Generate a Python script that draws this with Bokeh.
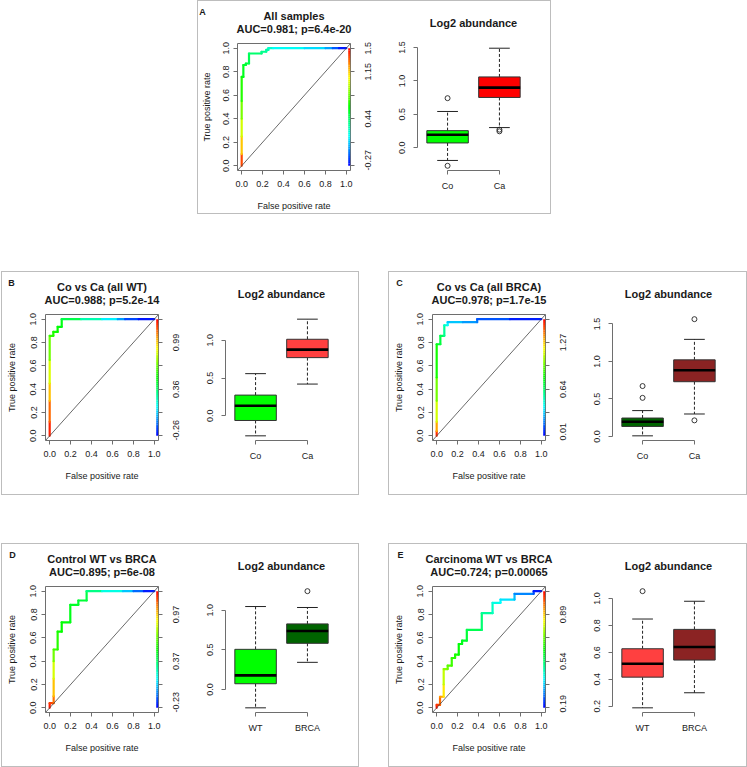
import math
import colorsys
from bokeh.plotting import figure
from bokeh.models import (Range1d, FixedTicker, LinearAxis, Slope,
                          PrintfTickFormatter, Spacer, Row, Column)
from bokeh.core.properties import value
from bokeh.embed import file_html
from bokeh.resources import INLINE

FONT = "Liberation Sans"
TXT = "#1a1a1a"
AX = "#6e6e6e"

# ---------------- data ----------------
roc_ticks = [0.0, 0.2, 0.4, 0.6, 0.8, 1.0]

# Panel A
a_title = "All samples"
a_stat = "AUC=0.981; p=6.4e-20"
a_fpr = [0, 0, 0, 0, 0, 0, 0.016, 0.016, 0.04, 0.04, 0.07, 0.07, 0.19, 0.19, 0.235, 0.235, 0.255, 0.255, 0.3, 0.6, 0.8, 0.87, 0.93, 1.0]
a_tpr = [0, 0.1, 0.25, 0.4, 0.55, 0.756, 0.756, 0.857, 0.857, 0.87, 0.87, 0.955, 0.955, 0.97, 0.97, 0.985, 0.985, 1, 1, 1, 1, 1, 1, 1]
a_cut = [1.5, 1.25, 1.06, 0.9, 0.75, 0.6, 0.58, 0.55, 0.53, 0.52, 0.5, 0.45, 0.4, 0.38, 0.36, 0.34, 0.32, 0.3, 0.22, 0.15, 0.08, -0.05, -0.18, -0.27]
a_key_range = [-0.27, 1.5]
a_key_labels = ["-0.27", "", "0.44", "", "1.15", "1.5"]
a_groups = ["Co", "Ca"]
a_lo = [-0.19, 0.302]
a_q1 = [0.072, 0.753]
a_med = [0.195, 0.90]
a_q3 = [0.256, 1.06]
a_hi = [0.543, 1.49]
a_out = [[0.742, -0.27], [0.271, 0.246]]
a_yticks = [0.0, 0.5, 1.0, 1.5]

# Panel B
b_title = "Co vs Ca (all WT)"
b_stat = "AUC=0.988; p=5.2e-14"
b_fpr = [0, 0, 0, 0, 0, 0, 0.035, 0.035, 0.076, 0.076, 0.115, 0.115, 0.3, 0.5, 0.65, 0.72, 0.85, 1.0]
b_tpr = [0, 0.12, 0.3, 0.45, 0.65, 0.857, 0.857, 0.891, 0.891, 0.934, 0.934, 1, 1, 1, 1, 1, 1, 1]
b_cut = [1.30, 1.2, 1.08, 0.93, 0.78, 0.6, 0.58, 0.56, 0.54, 0.52, 0.5, 0.48, 0.33, 0.17, 0.05, -0.1, -0.2, -0.26]
b_key_range = [-0.26, 1.3]
b_key_labels = ["-0.26", "", "0.36", "", "0.99", ""]
b_groups = ["Co", "Ca"]
b_lo = [-0.265, 0.42]
b_q1 = [-0.062, 0.77]
b_med = [0.133, 0.876]
b_q3 = [0.274, 1.013]
b_hi = [0.558, 1.279]
b_out = [[], []]
b_yticks = [0.0, 0.5, 1.0]

# Panel C
c_title = "Co vs Ca (all BRCA)"
c_stat = "AUC=0.978; p=1.7e-15"
c_fpr = [0, 0, 0, 0, 0, 0, 0.035, 0.035, 0.073, 0.073, 0.105, 0.105, 0.25, 0.387, 0.387, 0.7, 1.0]
c_tpr = [0, 0.04, 0.12, 0.3, 0.5, 0.785, 0.785, 0.857, 0.857, 0.948, 0.948, 0.974, 0.974, 0.974, 1, 1, 1]
c_cut = [1.585, 1.45, 1.2, 1.05, 0.9, 0.75, 0.72, 0.68, 0.64, 0.5, 0.45, 0.35, 0.28, 0.22, 0.18, 0.1, 0.01]
c_key_range = [0.01, 1.585]
c_key_labels = ["0.01", "", "0.64", "", "1.27", ""]
c_groups = ["Co", "Ca"]
c_lo = [0.009, 0.30]
c_q1 = [0.134, 0.73]
c_med = [0.197, 0.882]
c_q3 = [0.246, 1.021]
c_hi = [0.345, 1.294]
c_out = [[0.515, 0.672], [1.563, 0.215]]
c_yticks = [0.0, 0.5, 1.0, 1.5]

# Panel D
d_title = "Control WT vs BRCA"
d_stat = "AUC=0.895; p=6e-08"
d_fpr = [0, 0, 0.038, 0.038, 0.038, 0.038, 0.038, 0.076, 0.076, 0.115, 0.115, 0.197, 0.197, 0.274, 0.274, 0.353, 0.353, 0.5, 0.7, 0.8, 0.9, 1.0]
d_tpr = [0, 0.04, 0.04, 0.1, 0.25, 0.4, 0.5, 0.5, 0.653, 0.653, 0.733, 0.733, 0.883, 0.883, 0.92, 0.92, 1, 1, 1, 1, 1, 1]
d_cut = [1.27, 1.2, 1.15, 1.05, 0.92, 0.75, 0.62, 0.6, 0.55, 0.53, 0.52, 0.5, 0.47, 0.46, 0.45, 0.44, 0.4, 0.25, 0.12, 0.0, -0.15, -0.23]
d_key_range = [-0.23, 1.27]
d_key_labels = ["-0.23", "", "0.37", "", "0.97", ""]
d_groups = ["WT", "BRCA"]
d_lo = [-0.232, 0.342]
d_q1 = [0.072, 0.582]
d_med = [0.177, 0.738]
d_q3 = [0.506, 0.827]
d_hi = [1.046, 1.034]
d_out = [[], [1.24]]
d_yticks = [0.0, 0.5, 1.0]

# Panel E
e_title = "Carcinoma WT vs BRCA"
e_stat = "AUC=0.724; p=0.00065"
e_fpr = [0, 0, 0.032, 0.032, 0.067, 0.067, 0.067, 0.105, 0.105, 0.144, 0.144, 0.176, 0.176, 0.211, 0.211, 0.243, 0.243, 0.288, 0.288, 0.431, 0.431, 0.534, 0.534, 0.61, 0.61, 0.744, 0.744, 0.927, 0.927, 1.0]
e_tpr = [0, 0.025, 0.025, 0.095, 0.095, 0.2, 0.332, 0.332, 0.361, 0.361, 0.427, 0.427, 0.456, 0.456, 0.547, 0.547, 0.576, 0.576, 0.668, 0.668, 0.811, 0.811, 0.9, 0.9, 0.928, 0.928, 0.977, 0.977, 1, 1]
e_cut = [1.065, 1.03, 1.0, 0.95, 0.9, 0.83, 0.76, 0.73, 0.71, 0.69, 0.67, 0.66, 0.65, 0.64, 0.62, 0.61, 0.6, 0.59, 0.57, 0.55, 0.51, 0.48, 0.44, 0.42, 0.4, 0.37, 0.33, 0.28, 0.23, 0.19]
e_key_range = [0.19, 1.065]
e_key_labels = ["0.19", "", "0.54", "", "0.89", ""]
e_groups = ["WT", "BRCA"]
e_lo = [0.188, 0.30]
e_q1 = [0.416, 0.543]
e_med = [0.516, 0.64]
e_q3 = [0.627, 0.771]
e_hi = [0.848, 0.98]
e_out = [[1.055], []]
e_yticks = [0.2, 0.4, 0.6, 0.8, 1.0]

# ---------------- helpers ----------------
FW_ROC, FW_BOX = 113, 112
TOP_PAD = 4
TICK_FONT = 9


def rainbow(t):
    t = min(max(t, 0.0), 1.0)
    r, g, b = colorsys.hsv_to_rgb((1 - t) * 2 / 3, 1, 1)
    return "#%02x%02x%02x" % (round(r * 255), round(g * 255), round(b * 255))


def text_px(s, size=TICK_FONT):
    w = {".": 0.278, "-": 0.333}
    return sum(w.get(ch, 0.556) for ch in s) * size


def style_axis(ax, standoff):
    ax.axis_line_color = AX
    ax.major_tick_line_color = AX
    ax.minor_tick_line_color = None
    ax.major_tick_out = 4
    ax.major_tick_in = 0
    ax.major_label_text_font = FONT
    ax.major_label_text_font_size = "%dpx" % TICK_FONT
    ax.major_label_text_color = TXT
    ax.major_label_standoff = standoff
    ax.axis_label_text_font = FONT
    ax.axis_label_text_font_size = "9px"
    ax.axis_label_text_font_style = "normal"
    ax.axis_label_text_color = TXT


def bare(fig):
    fig.background_fill_color = "white"
    fig.border_fill_color = "white"


def make_panel(letter, title, stat, fpr, tpr, cut, key_range, key_labels,
               groups, lo, q1, med, q3, hi, outs, colors, yticks,
               pw, ph, roc_l, box_l, ft, fh, letter_x, tick_gap, ylab_gap):
    # outer size includes a 1px border on every side
    pw, ph = pw - 2, ph - 2
    roc_l, box_l, ft, letter_x = roc_l - 1, box_l - 1, ft - 1, letter_x - 1
    fb = ph - ft - fh
    roc_r = 33
    roc_w = roc_l + FW_ROC + roc_r
    box_w = pw - roc_w
    bl = box_l - roc_w
    br = box_w - bl - FW_BOX
    th = ft - TOP_PAD          # height of the strip that carries the titles
    body_h = ph - th

    # ---------- title strip (pixel coordinates, y downwards) ----------
    t = figure(width=pw, height=th, x_range=Range1d(0, pw), y_range=Range1d(th, 0),
               output_backend="svg", toolbar_location=None, min_border=0,
               x_axis_type=None, y_axis_type=None)
    t.outline_line_color = None
    bare(t)
    roc_cx = roc_l + FW_ROC / 2
    box_cx = box_l + FW_BOX / 2
    t.text(x=[letter_x], y=[10.5], text=[letter], text_font=value(FONT),
           text_font_size=value("9px"), text_font_style="bold",
           text_align="center", text_baseline="middle", text_color=TXT)
    t.text(x=[roc_cx, roc_cx, box_cx], y=[14.5, 27.5, 21],
           text=[title, stat, "Log2 abundance"], text_font=value(FONT),
           text_font_size=value("11px"), text_font_style="bold",
           text_align="center", text_baseline="middle", text_color=TXT)

    # ---------- ROC ----------
    p = figure(width=roc_w, height=body_h, x_range=Range1d(-0.04, 1.04),
               y_range=Range1d(-0.04, 1.04), output_backend="svg",
               toolbar_location=None, min_border_left=roc_l,
               min_border_right=roc_r, min_border_top=TOP_PAD, min_border_bottom=fb,
               x_axis_type=None, y_axis_type=None)
    p.outline_line_color = AX
    p.outline_line_width = 1
    bare(p)
    sx = 1.08 / FW_ROC
    dy = 1.08 / fh

    bx = LinearAxis(ticker=FixedTicker(ticks=roc_ticks),
                    formatter=PrintfTickFormatter(format="%.1f"), bounds=(0, 1),
                    axis_label="False positive rate")
    style_axis(bx, 6)
    bx.axis_label_standoff = 11
    p.add_layout(bx, "below")
    ly = LinearAxis(ticker=FixedTicker(ticks=roc_ticks),
                    formatter=PrintfTickFormatter(format="%.1f"), bounds=(0, 1),
                    axis_label="True positive rate")
    style_axis(ly, tick_gap)
    ly.axis_label_standoff = ylab_gap
    ly.major_label_orientation = "vertical"
    p.add_layout(ly, "left")

    # colour-key labels: the text runs upwards from its anchor, so the anchor is
    # moved down by half the text length (kept inside the range); the tick
    # marks themselves are drawn as minor ticks at the true positions
    shown = [(tk, s) for tk, s in zip(roc_ticks, key_labels) if s]
    anchors = [round(max(tk - text_px(s) / 2 * dy, -0.0395), 5) for tk, s in shown]
    ry = LinearAxis(ticker=FixedTicker(ticks=anchors, minor_ticks=roc_ticks),
                    bounds=(-0.04, 1.04),
                    major_label_overrides={a: s for a, (tk, s) in zip(anchors, shown)})
    style_axis(ry, 14)
    ry.axis_line_color = None
    ry.major_tick_line_color = None
    ry.minor_tick_line_color = AX
    ry.minor_tick_out = 4
    ry.minor_tick_in = 0
    ry.major_label_orientation = math.pi / 2
    p.add_layout(ry, "right")

    p.add_layout(Slope(gradient=1, y_intercept=0, line_color="#444444", line_width=0.8))

    cmin, cmax = key_range
    seg_cols = [rainbow(((cut[i] + cut[i + 1]) / 2 - cmin) / (cmax - cmin))
                for i in range(len(cut) - 1)]
    p.segment(x0=fpr[:-1], y0=tpr[:-1], x1=fpr[1:], y1=tpr[1:],
              line_color=seg_cols, line_width=2.2, line_cap="round")

    # colour key along the right edge of the frame
    n = 60
    kx = 1.04 - 1.2 * sx
    p.segment(x0=[kx] * n, x1=[kx] * n, y0=[i / n for i in range(n)],
              y1=[(i + 1) / n for i in range(n)],
              line_color=[rainbow((i + 0.5) / n) for i in range(n)], line_width=2.2)

    # ---------- box plot ----------
    allv = lo + hi + [v for o in outs for v in o]
    ymin, ymax = min(allv), max(allv)
    span = ymax - ymin
    yr0, yr1 = ymin - 0.04 * span, ymax + 0.04 * span
    q = figure(width=box_w, height=body_h, x_range=Range1d(0.42, 2.58),
               y_range=Range1d(yr0, yr1), output_backend="svg",
               toolbar_location=None, min_border_left=bl, min_border_right=br,
               min_border_top=TOP_PAD, min_border_bottom=fb,
               x_axis_type=None, y_axis_type=None)
    q.outline_line_color = None
    bare(q)
    xs = [1, 2]
    qx = LinearAxis(ticker=FixedTicker(ticks=xs), bounds=(1, 2),
                    major_label_overrides={1: groups[0], 2: groups[1]})
    style_axis(qx, 6)
    q.add_layout(qx, "below")
    qy = LinearAxis(ticker=FixedTicker(ticks=yticks),
                    formatter=PrintfTickFormatter(format="%.1f"),
                    bounds=(yticks[0], yticks[-1]))
    style_axis(qy, 8)
    qy.major_label_orientation = "vertical"
    q.add_layout(qy, "left")

    q.segment(x0=xs, x1=xs, y0=q3, y1=hi, line_color="#222222", line_width=1, line_dash="3 2")
    q.segment(x0=xs, x1=xs, y0=q1, y1=lo, line_color="#222222", line_width=1, line_dash="3 2")
    q.segment(x0=[x - 0.2 for x in xs], x1=[x + 0.2 for x in xs], y0=hi, y1=hi,
              line_color="#222222", line_width=1)
    q.segment(x0=[x - 0.2 for x in xs], x1=[x + 0.2 for x in xs], y0=lo, y1=lo,
              line_color="#222222", line_width=1)
    q.vbar(x=xs, width=0.8, bottom=q1, top=q3, fill_color=colors,
           line_color="#333333", line_width=1)
    q.segment(x0=[x - 0.4 for x in xs], x1=[x + 0.4 for x in xs], y0=med, y1=med,
              line_color="#000000", line_width=2.6)
    ox = [xs[i] for i, o in enumerate(outs) for _ in o]
    oy = [v for o in outs for v in o]
    if ox:
        q.scatter(x=ox, y=oy, marker="circle", size=5, fill_color=None,
                  line_color="#222222", line_width=0.9)

    return Column(children=[t, Row(children=[p, q])],
                  styles={"border": "1px solid #bdbdbd"})


pA = make_panel("A", a_title, a_stat, a_fpr, a_tpr, a_cut, a_key_range, a_key_labels,
                a_groups, a_lo, a_q1, a_med, a_q3, a_hi, a_out, ["#00FF00", "#FF0000"],
                a_yticks, 354, 214, 40, 220, 43, 127, 5, 4, 9)
pB = make_panel("B", b_title, b_stat, b_fpr, b_tpr, b_cut, b_key_range, b_key_labels,
                b_groups, b_lo, b_q1, b_med, b_q3, b_hi, b_out, ["#00FF00", "#FF4040"],
                b_yticks, 358, 224, 44, 224, 43, 126, 10, 5, 11)
pC = make_panel("C", c_title, c_stat, c_fpr, c_tpr, c_cut, c_key_range, c_key_labels,
                c_groups, c_lo, c_q1, c_med, c_q3, c_hi, c_out, ["#006400", "#8B2323"],
                c_yticks, 359, 224, 44, 224, 43, 126, 11, 5, 11)
pD = make_panel("D", d_title, d_stat, d_fpr, d_tpr, d_cut, d_key_range, d_key_labels,
                d_groups, d_lo, d_q1, d_med, d_q3, d_hi, d_out, ["#00FF00", "#006400"],
                d_yticks, 358, 224, 44, 224, 43, 126, 11, 5, 11)
pE = make_panel("E", e_title, e_stat, e_fpr, e_tpr, e_cut, e_key_range, e_key_labels,
                e_groups, e_lo, e_q1, e_med, e_q3, e_hi, e_out, ["#FF4040", "#8B2323"],
                e_yticks, 359, 224, 44, 224, 43, 126, 12, 5, 11)

root = Column(children=[
    Row(children=[Spacer(width=197, height=214), pA]),
    Spacer(height=57),
    Row(children=[Spacer(width=1, height=224), pB, Spacer(width=29, height=224), pC]),
    Spacer(height=48),
    Row(children=[Spacer(width=1, height=224), pD, Spacer(width=29, height=224), pE]),
])

open("out.html", "w").write(file_html(root, INLINE))
